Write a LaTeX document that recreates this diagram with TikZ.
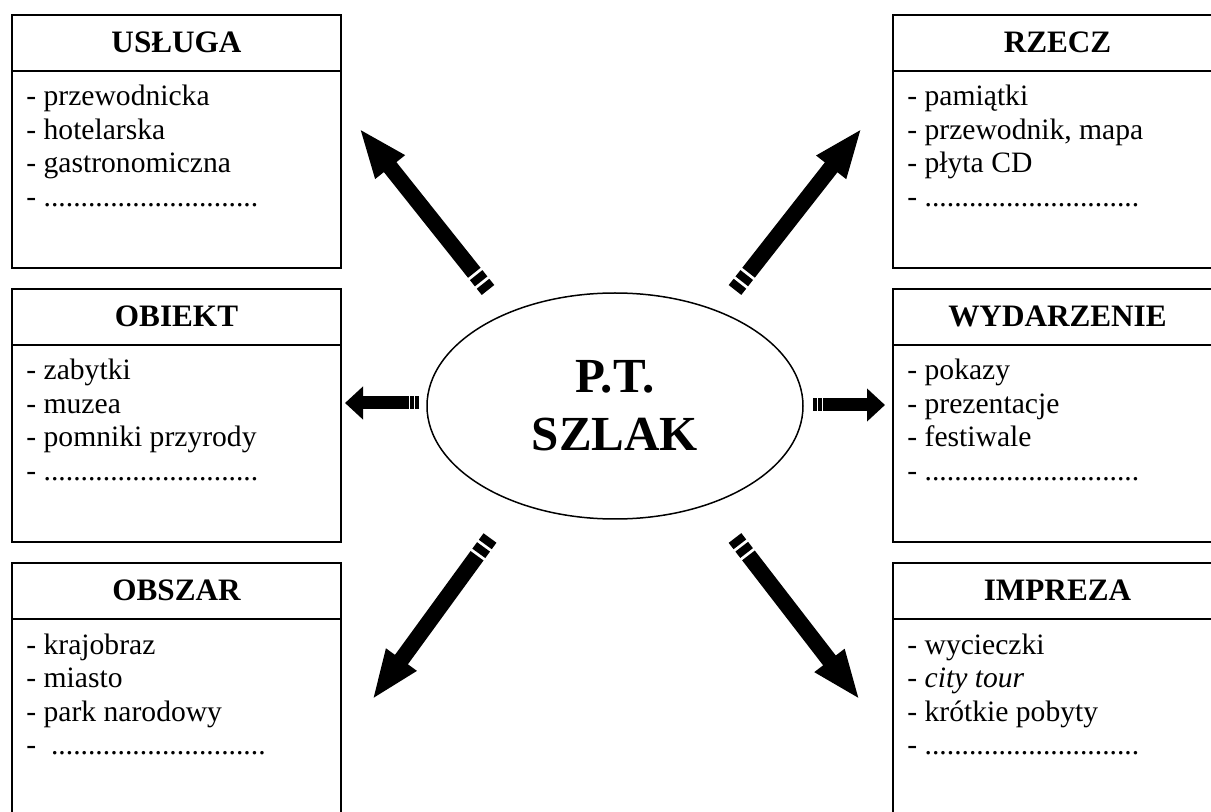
\documentclass[tikz,border=0pt]{standalone}
\usepackage{fontspec}
\setmainfont{Liberation Serif}
\usetikzlibrary{arrows.meta,calc,shapes.geometric}
\newcommand{\dotline}{.............................}
\tikzset{%
  % Specifications for style of nodes:
        box/.style = {rectangle, draw=black, line width=1pt,
                      minimum width=164.5pt, minimum height=126.5pt,
                      inner sep=0pt, outer sep=0pt, anchor=north west},
       rule/.style = {line width=1pt},
       head/.style = {font=\fontsize{15.6}{18}\selectfont\bfseries,
                      anchor=base, inner sep=0pt},
       item/.style = {font=\fontsize{14.8}{17}\selectfont,
                      anchor=base west, inner sep=0pt},
        hub/.style = {ellipse, draw=black, line width=0.75pt,
                      minimum width=188pt, minimum height=113pt, inner sep=0pt,
                      align=center, font=\fontsize{24.5}{29}\selectfont\bfseries},
  % Specifications for the arrows:
   bigarrow/.style = {line width=8pt, -{Triangle[length=25pt,width=17pt]}},
    bigstub/.style = {line width=8pt},
 smallarrow/.style = {line width=6.5pt, -{Triangle[length=9pt,width=16pt]}},
  smallstub/.style = {line width=6.5pt},
}

\begin{document}
\begin{tikzpicture}[x=0.5pt, y=-0.5pt]
  \clip (0,0) rectangle (1211,812);

  % centre
  \node[hub] (szlak) at (615,406) {P.T.\\SZLAK};

  % left column
  \node[box] (usluga) at (12,15) {};
  \draw[rule] ([yshift=-28pt]usluga.north west) -- ([yshift=-28pt]usluga.north east);
  \node[head] (usluga-head) at ([yshift=-19pt]usluga.north) {USŁUGA};
  \foreach \t [count=\i] in {- przewodnicka, - hotelarska, - gastronomiczna, - \dotline}
    \node[item] (usluga-\i) at ([xshift=7pt, yshift={-45.5pt-16.75pt*(\i-1)}]usluga.north west) {\t};

  \node[box] (obiekt) at (12,289) {};
  \draw[rule] ([yshift=-28pt]obiekt.north west) -- ([yshift=-28pt]obiekt.north east);
  \node[head] (obiekt-head) at ([yshift=-19pt]obiekt.north) {OBIEKT};
  \foreach \t [count=\i] in {- zabytki, - muzea, - pomniki przyrody, - \dotline}
    \node[item] (obiekt-\i) at ([xshift=7pt, yshift={-45.5pt-16.75pt*(\i-1)}]obiekt.north west) {\t};

  \node[box] (obszar) at (12,563) {};
  \draw[rule] ([yshift=-28pt]obszar.north west) -- ([yshift=-28pt]obszar.north east);
  \node[head] (obszar-head) at ([yshift=-19pt]obszar.north) {OBSZAR};
  \foreach \t [count=\i] in {- krajobraz, - miasto, - park narodowy, -\ \ \dotline}
    \node[item] (obszar-\i) at ([xshift=7pt, yshift={-45.5pt-16.75pt*(\i-1)}]obszar.north west) {\t};

  % right column
  \node[box] (rzecz) at (893,15) {};
  \draw[rule] ([yshift=-28pt]rzecz.north west) -- ([yshift=-28pt]rzecz.north east);
  \node[head] (rzecz-head) at ([yshift=-19pt]rzecz.north) {RZECZ};
  \foreach \t [count=\i] in {- pamiątki, {- przewodnik, mapa}, - płyta CD, - \dotline}
    \node[item] (rzecz-\i) at ([xshift=7pt, yshift={-45.5pt-16.75pt*(\i-1)}]rzecz.north west) {\t};

  \node[box] (wydarzenie) at (893,289) {};
  \draw[rule] ([yshift=-28pt]wydarzenie.north west) -- ([yshift=-28pt]wydarzenie.north east);
  \node[head] (wydarzenie-head) at ([yshift=-19pt]wydarzenie.north) {WYDARZENIE};
  \foreach \t [count=\i] in {- pokazy, - prezentacje, - festiwale, - \dotline}
    \node[item] (wydarzenie-\i) at ([xshift=7pt, yshift={-45.5pt-16.75pt*(\i-1)}]wydarzenie.north west) {\t};

  \node[box] (impreza) at (893,563) {};
  \draw[rule] ([yshift=-28pt]impreza.north west) -- ([yshift=-28pt]impreza.north east);
  \node[head] (impreza-head) at ([yshift=-19pt]impreza.north) {IMPREZA};
  \foreach \t [count=\i] in {- wycieczki, - \textit{city tour}, - krótkie pobyty, - \dotline}
    \node[item] (impreza-\i) at ([xshift=7pt, yshift={-45.5pt-16.75pt*(\i-1)}]impreza.north west) {\t};

  % arrow ends
  \coordinate (ul-tail) at (488,290);
  \coordinate (ul-tip)  at (359,128);
  \coordinate (ur-tail) at (735,290);
  \coordinate (ur-tip)  at (862,128);
  \coordinate (ll-tail) at (490,538);
  \coordinate (ll-tip)  at (372,700);
  \coordinate (lr-tail) at (735,538);
  \coordinate (lr-tip)  at (860,700);
  \coordinate (l-tail)  at (419,403);
  \coordinate (l-tip)   at (345,403);
  \coordinate (r-tail)  at (813,405);
  \coordinate (r-tip)   at (885,405);

  \foreach \a in {ul,ur,ll,lr} {
    \draw[bigstub] (\a-tail) -- ($(\a-tail)!4pt!(\a-tip)$);
    \draw[bigstub] ($(\a-tail)!5.5pt!(\a-tip)$) -- ($(\a-tail)!9.5pt!(\a-tip)$);
    \draw[bigarrow] ($(\a-tail)!11pt!(\a-tip)$) -- (\a-tip);
  }
  \foreach \a in {l,r} {
    \draw[smallstub] (\a-tail) -- ($(\a-tail)!2pt!(\a-tip)$);
    \draw[smallstub] ($(\a-tail)!2.6pt!(\a-tip)$) -- ($(\a-tail)!4.6pt!(\a-tip)$);
    \draw[smallarrow] ($(\a-tail)!5.2pt!(\a-tip)$) -- (\a-tip);
  }
\end{tikzpicture}
\end{document}
